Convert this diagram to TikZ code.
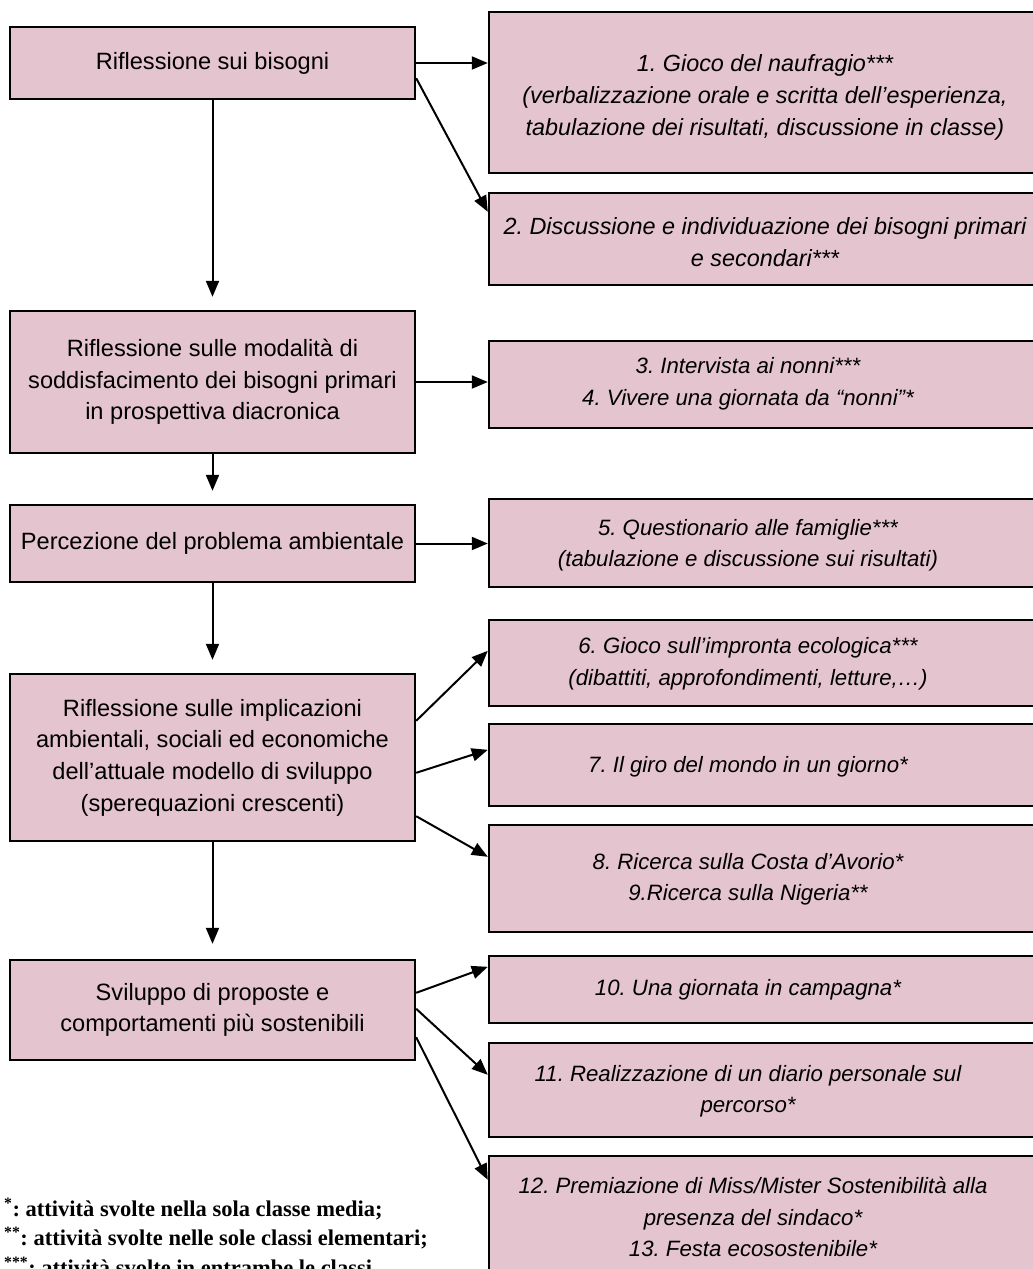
\documentclass[tikz,border=0pt]{standalone}
\usepackage{fontspec}
\setmainfont{Liberation Sans}
\newfontfamily\legendfont{Liberation Serif}
\usetikzlibrary{arrows.meta}
\definecolor{boxpink}{RGB}{228,196,207}
\frenchspacing
\newcommand{\stagefont}{\fontsize{23.6}{31.7}\selectfont}
\newcommand{\actfont}{\fontsize{22.2}{31.5}\selectfont\itshape}
\newcommand{\bigactfont}{\fontsize{23.4}{32}\selectfont\itshape}
\newcommand{\legfont}{\legendfont\bfseries\fontsize{22.5}{29.5}\selectfont}

\tikzset{
  stage/.style={draw=black, line width=2.4pt, fill=boxpink, minimum width=405pt, inner xsep=3pt, align=center, font=\stagefont},
  actbox/.style={draw=black, line width=2.4pt, fill=boxpink, minimum width=561pt},
  acttext/.style={align=center, inner sep=0pt, font=\actfont},
  bigact/.style={acttext, font=\bigactfont},
  flow/.style={line width=2pt, -{Triangle[length=16pt,width=13pt]}},
  legend/.style={anchor=base west, inner sep=0pt, font=\legfont},
}

\begin{document}
\begin{tikzpicture}[x=1pt, y=-1pt]
\useasboundingbox (0,0) rectangle (1033,1269);

% fasi del percorso
\node[stage, minimum height=72pt] (s1) at (212.5,63) {Riflessione sui bisogni};
\node[stage, minimum height=142pt] (s2) at (212.5,382) {Riflessione sulle modalità di\\soddisfacimento dei bisogni primari\\in prospettiva diacronica};
\node[stage, minimum height=77pt] (s3) at (212.5,543.5) {Percezione del problema ambientale};
\node[stage, minimum height=167pt] (s4) at (212.5,757.5) {Riflessione sulle implicazioni\\ambientali, sociali ed economiche\\dell’attuale modello di sviluppo\\(sperequazioni crescenti)};
\node[stage, minimum height=100pt] (s5) at (212.5,1010) {Sviluppo di proposte e\\comportamenti più sostenibili};

% attivita
\node[actbox, minimum height=161pt] (a1) at (769.5,92.5) {};
\node[actbox, minimum height=92pt] (a2) at (769.5,239) {};
\node[actbox, minimum height=87pt] (a3) at (769.5,384.5) {};
\node[actbox, minimum height=88pt] (a4) at (769.5,543) {};
\node[actbox, minimum height=86pt] (a5) at (769.5,663) {};
\node[actbox, minimum height=82pt] (a6) at (769.5,765) {};
\node[actbox, minimum height=107pt] (a7) at (769.5,878.5) {};
\node[actbox, minimum height=67pt] (a8) at (769.5,989.5) {};
\node[actbox, minimum height=94pt] (a9) at (769.5,1090) {};
\node[actbox, minimum height=138pt] (a10) at (769.5,1225) {};

\node[bigact] (t1) at (765,97) {1. Gioco del naufragio***\\(verbalizzazione orale e scritta dell’esperienza,\\tabulazione dei risultati, discussione in classe)};
\node[bigact] (t2) at (765,242) {2. Discussione e individuazione dei bisogni primari\\e secondari***};
\node[acttext] (t3) at (748,384) {3. Intervista ai nonni***\\4. Vivere una giornata da “nonni”*};
\node[acttext] (t4) at (748,545) {5. Questionario alle famiglie***\\(tabulazione e discussione sui risultati)};
\node[acttext] (t5) at (748,664) {6. Gioco sull’impronta ecologica***\\(dibattiti, approfondimenti, letture,…)};
\node[acttext] (t6) at (748,767) {7. Il giro del mondo in un giorno*};
\node[acttext] (t7) at (748,879) {8. Ricerca sulla Costa d’Avorio*\\9.Ricerca sulla Nigeria**};
\node[acttext] (t8) at (748,990) {10. Una giornata in campagna*};
\node[acttext] (t9) at (748,1091) {11. Realizzazione di un diario personale sul\\percorso*};
\node[acttext] (t10) at (753,1217) {12. Premiazione di Miss/Mister Sostenibilità alla\\presenza del sindaco*\\13. Festa ecosostenibile*};

% frecce verticali
\draw[flow, shorten >=13pt] (s1) -- (s2);
\draw[flow, shorten >=13pt] (s2) -- (s3);
\draw[flow, shorten >=13pt] (s3) -- (s4);
\draw[flow, shorten >=15pt] (s4) -- (s5);

% frecce verso le attivita
\draw[flow] (s1.east) -- (s1.east -| a1.west);
\draw[flow] ([yshift=22pt]s1.south east) -- ([yshift=-20pt]a2.north west);
\draw[flow] (s2.east) -- (s2.east -| a3.west);
\draw[flow] (s3.east) -- (s3.east -| a4.west);
\draw[flow] ([yshift=-48pt]s4.north east) -- ([yshift=-32pt]a5.north west);
\draw[flow] ([yshift=-100pt]s4.north east) -- ([yshift=-27pt]a6.north west);
\draw[flow] ([yshift=26pt]s4.south east) -- ([yshift=-33pt]a7.north west);
\draw[flow] ([yshift=-34pt]s5.north east) -- ([yshift=-12pt]a8.north west);
\draw[flow] ([yshift=-50pt]s5.north east) -- ([yshift=-33pt]a9.north west);
\draw[flow] ([yshift=24pt]s5.south east) -- ([yshift=-25pt]a10.north west);

% legenda
\node[legend] (l1) at (4,1216) {\textsuperscript{*}: attività svolte nella sola classe media;};
\node[legend] (l2) at (4,1245.5) {\textsuperscript{**}: attività svolte nelle sole classi elementari;};
\node[legend] (l3) at (4,1275) {\textsuperscript{***}: attività svolte in entrambe le classi};
\end{tikzpicture}
\end{document}
